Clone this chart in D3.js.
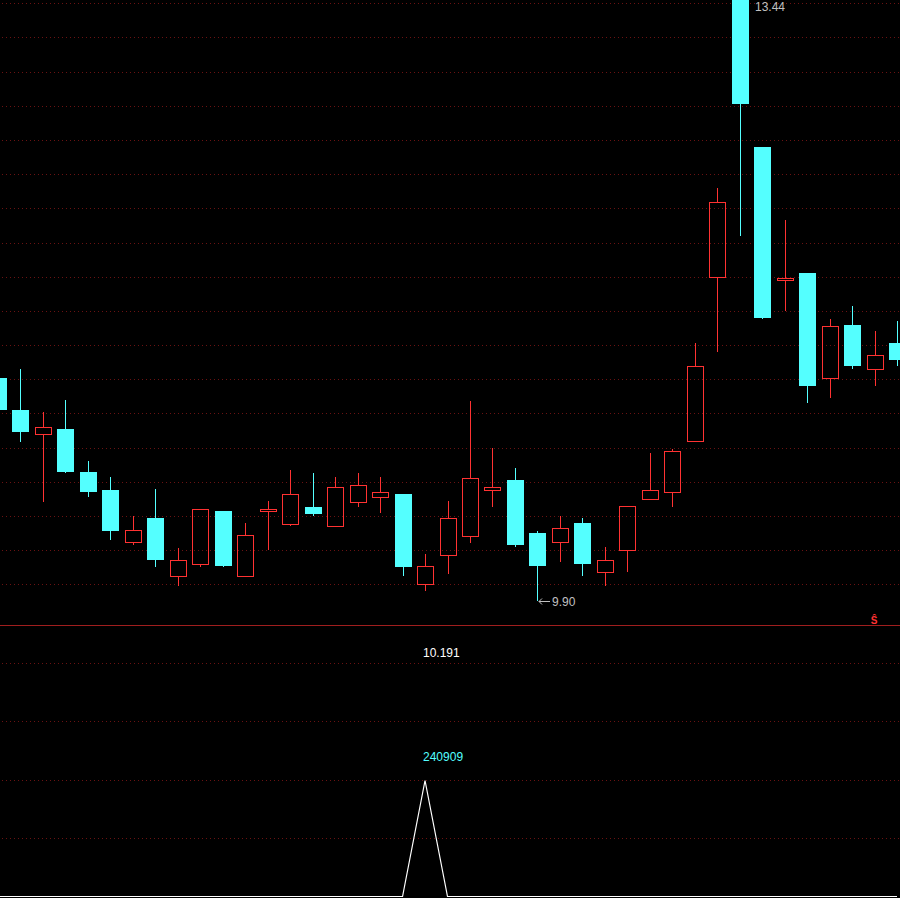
<!DOCTYPE html>
<html>
<head>
<meta charset="utf-8">
<script src="https://cdn.jsdelivr.net/npm/d3@7"></script>
<style>
  html, body { margin: 0; padding: 0; background: #000; overflow: hidden; }
  svg { display: block; }
  text { font-family: "Liberation Sans", Arial, sans-serif; font-size: 12px; }
</style>
</head>
<body>
<div id="c1"></div>
<script>
// Data (one entry per day)
var opens  = [11.21, 11.02, 10.88, 10.91, 10.66, 10.55, 10.25, 10.39, 10.05, 10.12,
              10.43, 10.05, 10.43, 10.35, 10.45, 10.34, 10.48, 10.51, 10.53, 10.00,
              10.17, 10.28, 10.55, 10.61, 10.30, 10.25, 10.36, 10.07, 10.20, 10.50,
              10.54, 10.84, 11.80, 13.42, 12.56, 11.78, 11.82, 11.21, 11.52, 11.26,
              11.41];
var highs  = [11.26, 11.26, 11.01, 11.08, 10.72, 10.63, 10.40, 10.56, 10.21, 10.44,
              10.43, 10.36, 10.49, 10.67, 10.65, 10.63, 10.65, 10.63, 10.53, 10.18,
              10.49, 11.07, 10.80, 10.68, 10.31, 10.40, 10.39, 10.22, 10.46, 10.77,
              10.79, 11.41, 12.32, 13.44, 12.56, 12.13, 11.82, 11.55, 11.63, 11.48,
              11.54];
var lows   = [10.98, 10.83, 10.48, 10.65, 10.51, 10.26, 10.23, 10.10, 9.99, 10.10,
              10.10, 10.05, 10.20, 10.34, 10.40, 10.34, 10.45, 10.42, 10.05, 9.96,
              10.06, 10.24, 10.45, 10.22, 9.90, 10.13, 10.05, 9.99, 10.07, 10.50,
              10.45, 10.84, 11.36, 12.04, 11.55, 11.60, 11.06, 11.09, 11.26, 11.16,
              11.28];
var closes = [11.02, 10.89, 10.92, 10.66, 10.54, 10.31, 10.32, 10.14, 10.14, 10.44,
              10.11, 10.29, 10.44, 10.53, 10.41, 10.57, 10.58, 10.54, 10.10, 10.11,
              10.39, 10.62, 10.57, 10.23, 10.11, 10.33, 10.12, 10.14, 10.46, 10.55,
              10.78, 11.28, 12.24, 12.81, 11.56, 11.79, 11.16, 11.51, 11.28, 11.34,
              11.31];
var volumes = [0, 0, 0, 0, 0, 0, 0, 0, 0, 0,
               0, 0, 0, 0, 0, 0, 0, 0, 0, 240909,
               0, 0, 0, 0, 0, 0, 0, 0, 0, 0,
               0, 0, 0, 0, 0, 0, 0, 0, 0, 0,
               0];
var priceGrid = [10.0, 10.2, 10.4, 10.6, 10.8, 11.0, 11.2, 11.4, 11.6, 11.8,
                 12.0, 12.2, 12.4, 12.6, 12.8, 13.0, 13.2, 13.4];
var volGrid = [120455, 240909, 361364, 481818];
var midValue = "10.191";

var w = 900, h = 898;
var up = "#ff3232", down = "#54ffff", grid = "#6a1212";

function draw() {
    var svg = d3.select("#c1").append("svg")
        .attr("width", w)
        .attr("height", h)
        .style("background", "#000");

    var n = opens.length;
    var x = d3.scaleLinear().domain([0, n - 1]).range([-2, 897]);
    var y = d3.scaleLinear().domain([10, 13.4]).range([584.3, 3.3]);
    var yv = d3.scaleLinear().domain([0, 481818]).range([896, 663]);

    // grid lines
    var gg = svg.append("g").attr("shape-rendering", "crispEdges");
    gg.selectAll("line.pgrid").data(priceGrid).enter().append("line")
        .attr("x1", 2).attr("x2", w)
        .attr("y1", function (d) { return Math.round(y(d)) + 0.5; })
        .attr("y2", function (d) { return Math.round(y(d)) + 0.5; })
        .attr("stroke", grid).attr("stroke-dasharray", "1,3");

    gg.selectAll("line.vgrid").data(volGrid).enter().append("line")
        .attr("x1", 2).attr("x2", w)
        .attr("y1", function (d) { return Math.round(yv(d)) + 0.5; })
        .attr("y2", function (d) { return Math.round(yv(d)) + 0.5; })
        .attr("stroke", grid).attr("stroke-dasharray", "1,3");

    // pane separator
    gg.append("line")
        .attr("x1", 0).attr("x2", w).attr("y1", 625.5).attr("y2", 625.5)
        .attr("stroke", "#a01e1e");

    // candles
    var idx = d3.range(n);
    var g = svg.append("g").attr("shape-rendering", "crispEdges");

    idx.forEach(function (i) {
        var x0 = Math.round(x(i) - 8);
        var xc = x0 + 8.5;
        var top = Math.round(y(Math.max(opens[i], closes[i])));
        var bot = Math.round(y(Math.min(opens[i], closes[i])));
        var yh = Math.round(y(highs[i]));
        var yl = Math.round(y(lows[i]));
        if (closes[i] >= opens[i]) {
            if (yh < top) g.append("line").attr("x1", xc).attr("x2", xc)
                .attr("y1", yh).attr("y2", top).attr("stroke", up);
            if (yl > bot) g.append("line").attr("x1", xc).attr("x2", xc)
                .attr("y1", bot).attr("y2", yl).attr("stroke", up);
            g.append("rect")
                .attr("x", x0 + 0.5).attr("y", top + 0.5)
                .attr("width", 16).attr("height", Math.max(1, bot - top))
                .attr("fill", "none").attr("stroke", up);
        } else {
            g.append("line").attr("x1", xc).attr("x2", xc)
                .attr("y1", yh).attr("y2", yl).attr("stroke", down);
            g.append("rect")
                .attr("x", x0).attr("y", top)
                .attr("width", 17).attr("height", Math.max(1, bot - top))
                .attr("fill", down);
        }
    });

    // high / low markers
    var hi = d3.maxIndex(highs), lo = d3.minIndex(lows);
    var hx = Math.round(x(hi) - 8) + 9, hy = y(highs[hi]);
    svg.append("path")
        .attr("d", "M" + (hx + 12) + "," + hy + "H" + (hx + 1) +
            "M" + (hx + 4) + "," + (hy - 3) + "L" + (hx + 1) + "," + hy + "L" + (hx + 4) + "," + (hy + 3))
        .attr("stroke", "#c0c0c0").attr("fill", "none");
    svg.append("text")
        .attr("x", hx + 14).attr("y", Math.max(hy, 7))
        .attr("dy", "0.35em").attr("fill", "#c0c0c0")
        .text(highs[hi].toFixed(2));

    var lx = Math.round(x(lo) - 8) + 9, ly = Math.round(y(lows[lo])) + 0.5;
    svg.append("path")
        .attr("d", "M" + (lx + 12) + "," + ly + "H" + (lx + 1) +
            "M" + (lx + 4) + "," + (ly - 3) + "L" + (lx + 1) + "," + ly + "L" + (lx + 4) + "," + (ly + 3))
        .attr("stroke", "#c0c0c0").attr("fill", "none");
    svg.append("text")
        .attr("x", lx + 14).attr("y", ly)
        .attr("dy", "0.35em").attr("fill", "#c0c0c0")
        .text(lows[lo].toFixed(2));

    // S marker
    svg.append("text")
        .attr("x", 874).attr("y", 624)
        .attr("text-anchor", "middle")
        .attr("fill", up).style("font-size", "10px").style("font-weight", "bold")
        .text("Ŝ");

    // volume line
    var line = d3.line()
        .x(function (d, i) { return x(i); })
        .y(function (d) { return Math.round(yv(d)) + 0.5; });
    svg.append("path")
        .datum(volumes)
        .attr("d", line)
        .attr("fill", "none")
        .attr("stroke", "#ffffff")
        .attr("stroke-width", 1.2);

    var vi = d3.maxIndex(volumes);
    svg.append("text")
        .attr("x", x(vi) - 2).attr("y", 757)
        .attr("dy", "0.35em").attr("fill", down)
        .text(volumes[vi]);
    svg.append("text")
        .attr("x", x(vi) - 2).attr("y", 653)
        .attr("dy", "0.35em").attr("fill", "#ffffff")
        .text(midValue);
}

draw();
</script>
</body>
</html>
